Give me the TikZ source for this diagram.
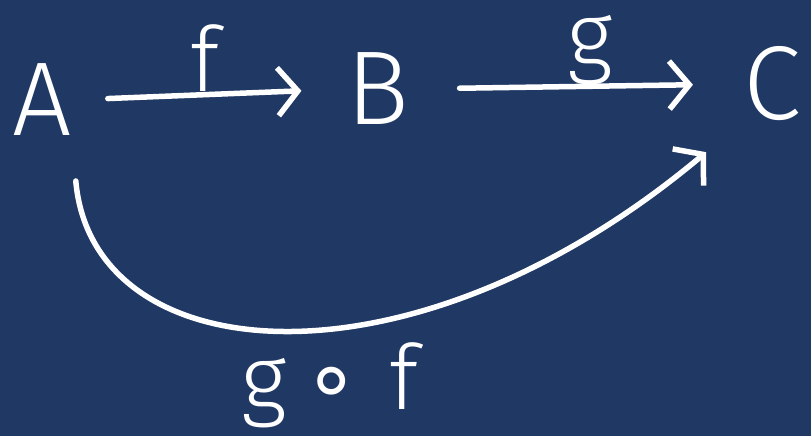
\documentclass[tikz,border=0pt]{standalone}
\usepackage{fontspec}
\setmainfont{Fira Sans Light}
\newfontfamily\symfont{DejaVu Sans}
\usepackage{xcolor}
\usepackage{tikz}
\usetikzlibrary{arrows.meta}
\definecolor{boardblue}{RGB}{31,56,100}

\begin{document}
\begin{tikzpicture}[
  x=1pt, y=1pt,
  obj/.style={text=white, inner sep=0pt, font=\fontsize{105}{105}\selectfont},
  lbl/.style={text=white, inner sep=0pt, font=\fontsize{90}{90}\selectfont},
  arrow/.style={-{Straight Barb[length=20pt, width=48pt, line width=5.5pt]},
    line width=5.5pt, white, line cap=round, line join=round}
]
  \fill[boardblue] (0,0) rectangle (811,436);

  \node[obj] (A) at (42,336) {A};
  \node[obj] (B) at (378,347) {B};
  \node[obj] (C) at (772,352) {C};

  \node[lbl] (f) at (205,378) {f};
  \node[lbl] (g) at (590,386) {g};
  \node[lbl] (gf) at (330,51) {g\hspace{16pt}{\symfont ∘}\hspace{30pt}f};

  \draw[arrow, shorten <=36pt, shorten >=45pt] (A.east) -- (B.west);
  \draw[arrow, shorten <=50pt, shorten >=50pt] (B.east) -- (C.west);
  \draw[arrow, shorten <=45pt, shorten >=48pt] (A.south east)
    to[out=-85, in=220, out looseness=0.9, in looseness=1.65] (C.south west);
\end{tikzpicture}
\end{document}
